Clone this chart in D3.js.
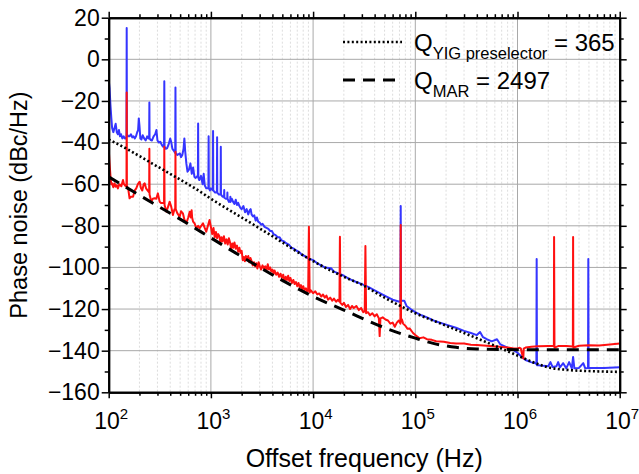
<!DOCTYPE html>
<html><head><meta charset="utf-8">
<script src="https://cdn.jsdelivr.net/npm/d3@7"></script>
<style>
body{margin:0;background:#fff}
svg{display:block}
text{font-family:"Liberation Sans",Arial,Helvetica,sans-serif;fill:#000}
</style>
</head><body>
<svg id="chart" width="639" height="474"></svg>
<script>
// ---------- data (frequency in Hz, phase noise in dBc/Hz) ----------
const blueTrace = [
[100,-10],[102,-14],[104,-22],[106,-28],[108,-33],[111,-35],[114,-33],[117,-31],[120,-35],[123,-36],[126,-34],[129,-37],[132,-36],[136,-38],[140,-37],[144,-38],[148,-38],
[149.3,-37],[150,15],[150.7,-36],[155,-37],[160,-37],[165,-36],[170,-37.5],[175,-37],[180,-38],[185,-37],[190,-35],
[194,-34],[197,-28.4],[200,-32],[204,-38],[209,-38.5],[215,-36.5],[222,-38],[230,-39],[238,-37],[245,-38],[248.8,-38],[250,-20.7],[251.2,-38],
[258,-38.8],[265,-39],[275,-37],[285,-36],[293,-34],[300,-39],[310,-40],[320,-39.6],[330,-41],[340,-42],[348,-42],[350,-10.5],[352,-42],
[362,-43],[372,-42.8],[385,-41],[400,-38],[410,-40],[420,-43],[435,-44],[447.5,-45],[450,-13.5],[452.5,-45],[470,-46],[485,-45.5],[497,-45.2],
[510,-47],[525,-46],[540,-43],[550,-38],[560,-44],[575,-50],[590,-54],[610,-53],[630,-50],[650,-55],[670,-52],[690,-56.5],[710,-57],[740,-56],
[746,-56],[750,-30.8],[754,-57],[770,-58],[800,-56],[830,-60],[850,-55],[870,-60.5],[900,-62],[945,-62],[950,-37],[955,-62],[980,-63],[1000,-62],
[1045,-63],[1050,-34.5],[1055,-63],[1100,-64],[1145,-64],[1150,-37.5],[1155,-64],[1200,-65],[1245,-65],[1250,-42],[1255,-65],[1300,-66],
[1345,-66],[1350,-62.8],[1355,-66.5],[1400,-67],[1445,-67],[1450,-64],[1455,-67],[1500,-68.5],[1545,-68],[1550,-66],[1555,-68.5],[1600,-67],[1650,-68.5],[1700,-69.5],[1750,-67.5],[1800,-70],
[1850,-69],[1900,-70.5],[1950,-71.5],[2000,-72],[2080,-70.5],[2160,-73.5],[2240,-72],[2320,-74.5],[2400,-72.5],[2450,-72],[2500,-74.5],[2580,-75.5],
[2660,-75],[2740,-77.5],[2820,-76],[2900,-78],[3000,-78.5],[3100,-79.5],[3200,-79],[3350,-80.5],[3500,-81],[3650,-81.5],[3800,-82.5],[3950,-82.5],
[4100,-84],[4300,-84.5],[4500,-85.5],[4700,-85.5],[4900,-87],[5200,-87.5],[5500,-88.5],[5800,-89],[6100,-90.5],[6500,-91],[6900,-92],[7300,-92.5],
[7800,-94],[8300,-94.5],[8800,-95.5],[9400,-96],[10000,-96.5],[11000,-98],[12000,-99],[13000,-100],
[15000,-100.4],[16000,-102],[18000,-103],[20000,-104],[22500,-105.5],[25000,-106.5],[30000,-108],[35000,-109.5],[40000,-111],[45000,-112.3],[50000,-113.5],[60000,-115.5],[70000,-116.5],[71500,-116],
[72000,-70.5],[72500,-116],[78000,-116],[82000,-118.5],[90000,-120],[100000,-121.5],[115000,-123],[130000,-124],[160000,-126],[200000,-127.5],[250000,-129],
[300000,-130.5],[350000,-131.5],[400000,-132.5],[430000,-131],[460000,-133.5],[500000,-134.5],[560000,-135.5],[630000,-134.5],[680000,-137],
[800000,-138.5],[900000,-139.5],[1000000,-141],[1100000,-143],[1200000,-144.5],[1350000,-145.5],[1500000,-146],[1530000,-146.5],[1540000,-96],
[1550000,-147],[1600000,-147],[1800000,-147.3],[2000000,-147.5],[2100000,-145.5],[2200000,-147.8],[2400000,-147.5],[2500000,-145.5],[2600000,-148],
[2800000,-146],[3000000,-148.5],[3200000,-145.5],[3400000,-148.5],[3500000,-143],[3600000,-148.5],[4000000,-148.3],[4400000,-146],[4600000,-148.5],
[4900000,-148.3],[4930000,-96],[4960000,-148.3],[5500000,-148.3],[7000000,-148.3],[10000000,-148]
];
const redTrace = [
[100,-43],[102,-50],[104,-56],[106,-60],[108,-59.6],[111,-61.5],[114,-59.6],[117,-61.2],[120,-60.5],[123,-62],[127,-60],[133,-61],[138,-58],[141,-60],
[147,-61],[149.3,-60],[150,-16],[150.7,-61],[155,-62],[160,-66.8],[165,-66],[173,-66],[180,-63],[186,-62],[193,-60],[201,-58.8],[207,-62],[213,-63],
[220,-60],[225,-59.6],[232,-62],[240,-63],[248.8,-64],[250,-43],[251.2,-65],[261,-68.4],[270,-67],[282,-66.8],[292,-67],[303,-64.4],[315,-68.4],
[325,-69],[335,-69],[348,-69],[350,-42],[352,-70],[367,-73.2],[380,-71],[395,-68.4],[410,-71],[425,-74.8],[440,-72],[447.5,-72],[450,-44.4],
[452.5,-72],[470,-74],[495,-75.6],[510,-73],[532,-74],[550,-77],[574,-78.8],[600,-76],[620,-73.2],[635,-76],[648,-72.5],[655,-76],[670,-78],
[695,-79],[720,-81.2],[750,-80],[777,-81.2],[805,-80],[837,-78.8],[870,-81],[900,-82.8],[935,-80],[970,-77.2],[1000,-80.5],
[1030,-84],[1060,-81],[1090,-85.5],[1120,-83],[1150,-86],[1180,-84],[1210,-85],[1240,-88],[1270,-85.5],[1300,-87.5],[1340,-85],[1380,-88.5],
[1420,-86.5],[1460,-89],[1500,-86],[1540,-88],[1580,-91],[1620,-88.5],[1660,-90.5],[1700,-88],[1750,-91],[1800,-89.5],[1850,-92.5],[1900,-90.5],
[1950,-93],[2000,-92],[2050,-96.5],[2100,-95],[2150,-97],[2200,-94.5],[2260,-96],[2320,-94.5],[2380,-97.5],[2440,-95.5],[2500,-97],[2570,-99],
[2640,-97.5],[2710,-99.5],[2780,-98],[2850,-100.5],[2930,-97.5],[3010,-99.5],[3100,-101],[3200,-99],[3300,-100.5],[3400,-99.5],[3500,-101.5],
[3600,-98.5],[3700,-101],[3800,-100],[3900,-102],[4000,-101],[4100,-103],[4200,-101.5],[4350,-103.5],[4500,-102.5],[4650,-104.5],[4800,-103],
[4950,-105],[5100,-103.5],[5250,-106.5],[5400,-104.5],[5550,-106],[5700,-104],[5850,-106.5],[6000,-105],[6200,-107.5],[6400,-106],[6600,-108],
[6800,-107],[7000,-109],[7200,-107.5],[7400,-109.5],[7600,-108.5],[7800,-110.5],[8000,-109],[8250,-111],[8500,-110],[8750,-111.5],[8950,-111],
[9100,-80.4],[9250,-112],[9500,-111],[10000,-112.4],[10500,-111.5],[11000,-113],[11500,-112.5],[12000,-114],[12500,-113],[13000,-114.5],
[13500,-113.5],[14000,-115.5],[14700,-114.5],[15400,-116],[16000,-115],[16800,-116.5],[17500,-115.5],[18100,-116.5],[18300,-85.2],[18500,-117],
[19300,-118],[20000,-117],[21000,-119],[22000,-118],[23000,-120],[24000,-118.5],[25000,-119.5],[26500,-118.5],[28000,-120.5],[29500,-119.5],
[31000,-121.5],[32000,-121],[32500,-89.7],[33000,-122],[34500,-121.5],[36000,-123],[38000,-122],[40000,-123.5],[42000,-122.5],[44000,-124.5],
[44800,-133],[45600,-124.5],[48000,-124],[51000,-125],[54000,-125.5],[57000,-127],[60000,-126.5],[63000,-128.5],[66000,-126.5],[69000,-125.5],
[71500,-127],[72000,-79.6],[72500,-126],[74000,-125],[76000,-127],[80000,-128],[84000,-129.5],[88000,-129.3],[95000,-131.5],[100000,-132.5],
[110000,-134],[120000,-133.6],[130000,-134.5],[145000,-134.8],[160000,-135.5],[190000,-135.7],[220000,-136.3],[250000,-136.5],[300000,-136.6],[350000,-137.1],[400000,-137.3],[500000,-137.6],[660000,-138.1],
[800000,-138.5],[920000,-138.9],[1000000,-138.9],[1050000,-138.6],[1080000,-139],[1100000,-141],[1140000,-143.7],[1150000,-139],[1200000,-138.5],
[1370000,-138.1],[1600000,-137.9],[2000000,-137.8],[2270000,-137.8],[2280000,-85.4],[2300000,-138.5],[2500000,-137.8],[3000000,-137.7],
[3480000,-138],[3500000,-85.4],[3520000,-138.5],[4000000,-137.6],[5000000,-137.4],[6300000,-137.5],[8000000,-137],[10000000,-136.6]
];
const qYigFit = [
[100,-38.5],[150,-43],[200,-46.5],[300,-51.5],[450,-56.5],[700,-62],[1000,-67],[2000,-76],[4000,-85],[10000,-97],[20000,-104.5],[30000,-108.3],
[50000,-114.5],[100000,-122],[200000,-128],[500000,-136],[1000000,-142.3],[1500000,-146],[2000000,-148],[3000000,-149.2],[5000000,-149.8],[10000000,-150.2]
];
const qMarFit = [
[100,-56.5],[200,-65.3],[500,-76.8],[1000,-85.8],[2000,-94.8],[5000,-106.2],[10000,-114],[20000,-120.5],[50000,-129],[100000,-134],
[150000,-136.5],[250000,-138.4],[400000,-139.2],[1000000,-139.5],[10000000,-139.5]
];
const yTickValues = [-160,-140,-120,-100,-80,-60,-40,-20,0,20];
const yMinorValues = [-150,-130,-110,-90,-70,-50,-30,-10,10];
const xDecadeExponents = [2,3,4,5,6,7];
const legendSubscripts = ["YIG preselector","MAR"];
const legendValues = ["365","2497"];
const xTitle = "Offset frequency (Hz)";
const yTitle = "Phase noise (dBc/Hz)";

// ---------- layout ----------
const L=108.7, R=619.7, T=17.7, B=392.3;
const x = d3.scaleLog().domain([1e2,1e7]).range([L,R]);
const y = d3.scaleLinear().domain([-160,20]).range([B,T]);
const svg = d3.select("#chart");

const decades = xDecadeExponents.map(e=>Math.pow(10,e));
const minorX = x.ticks().filter(v=>!decades.some(d=>Math.abs(d-v)/d<1e-6));

// grid
const grid = svg.append("g");
grid.selectAll(".mx").data(minorX).enter().append("line")
  .attr("x1",d=>x(d)).attr("x2",d=>x(d)).attr("y1",T).attr("y2",B)
  .attr("stroke","#d4d4d4").attr("stroke-width",0.8).attr("stroke-dasharray","2,2");
grid.selectAll(".Mx").data(decades).enter().append("line")
  .attr("x1",d=>x(d)).attr("x2",d=>x(d)).attr("y1",T).attr("y2",B)
  .attr("stroke","#a9a9a9").attr("stroke-width",1);
grid.selectAll(".My").data(yTickValues).enter().append("line")
  .attr("x1",L).attr("x2",R).attr("y1",d=>y(d)).attr("y2",d=>y(d))
  .attr("stroke","#a9a9a9").attr("stroke-width",1);

// clip
svg.append("clipPath").attr("id","plotclip").append("rect")
  .attr("x",L).attr("y",T).attr("width",R-L).attr("height",B-T);

const line = d3.line().x(d=>x(d[0])).y(d=>y(d[1]));
const plot = svg.append("g").attr("clip-path","url(#plotclip)");
plot.append("path").datum(blueTrace).attr("d",line).attr("fill","none")
  .attr("stroke","#3535ff").attr("stroke-width",2).attr("stroke-linejoin","round");
plot.append("path").datum(redTrace).attr("d",line).attr("fill","none")
  .attr("stroke","#ff1010").attr("stroke-width",2).attr("stroke-linejoin","round");
const smooth = d3.line().x(d=>x(d[0])).y(d=>y(d[1])).curve(d3.curveMonotoneX);
plot.append("path").datum(qYigFit).attr("d",smooth).attr("fill","none")
  .attr("stroke","#000").attr("stroke-width",2.6).attr("stroke-dasharray","2,2.4");
plot.append("path").datum(qMarFit).attr("d",smooth).attr("fill","none")
  .attr("stroke","#000").attr("stroke-width",3).attr("stroke-dasharray","12,8");

// axes
function styleAxis(g){
  g.select(".domain").attr("stroke","#000").attr("stroke-width",2);
  g.selectAll(".tick line").attr("stroke","#000").attr("stroke-width",1.5);
}
const fs = 23;
const gl = svg.append("g").attr("transform",`translate(${L},0)`)
  .call(d3.axisLeft(y).tickValues(yTickValues).tickSize(7).tickSizeOuter(0).tickPadding(2));
gl.selectAll("text").attr("font-size",fs).attr("font-family","Liberation Sans, Arial, sans-serif").attr("fill","#000");
styleAxis(gl);
const glm = svg.append("g").attr("transform",`translate(${L},0)`)
  .call(d3.axisLeft(y).tickValues(yMinorValues).tickSize(4).tickSizeOuter(0).tickFormat(""));
styleAxis(glm);
const gr = svg.append("g").attr("transform",`translate(${R},0)`)
  .call(d3.axisRight(y).tickValues(yTickValues).tickSize(7).tickSizeOuter(0).tickFormat(""));
styleAxis(gr);
const grm = svg.append("g").attr("transform",`translate(${R},0)`)
  .call(d3.axisRight(y).tickValues(yMinorValues).tickSize(4).tickSizeOuter(0).tickFormat(""));
styleAxis(grm);
const gt = svg.append("g").attr("transform",`translate(0,${T})`)
  .call(d3.axisTop(x).tickValues(decades).tickSize(6).tickSizeOuter(0).tickFormat(""));
styleAxis(gt);
const gtm = svg.append("g").attr("transform",`translate(0,${T})`)
  .call(d3.axisTop(x).tickValues(minorX).tickSize(3.5).tickSizeOuter(0).tickFormat(""));
styleAxis(gtm);
const gb = svg.append("g").attr("transform",`translate(0,${B})`)
  .call(d3.axisBottom(x).tickValues(decades).tickSize(6).tickSizeOuter(0).tickFormat(""));
styleAxis(gb);
const gbm = svg.append("g").attr("transform",`translate(0,${B})`)
  .call(d3.axisBottom(x).tickValues(minorX).tickSize(3.5).tickSizeOuter(0).tickFormat(""));
styleAxis(gbm);

// x tick labels 10^n
const xl = svg.append("g");
xDecadeExponents.forEach(e=>{
  const t = xl.append("text").attr("x",x(Math.pow(10,e))+2.5).attr("y",428.5)
    .attr("text-anchor","middle").attr("font-size",fs);
  t.append("tspan").text("10");
  t.append("tspan").attr("font-size",15).attr("dy",-10).text(String(e));
});

// titles
svg.append("text").attr("x",(L+R)/2).attr("y",467).attr("text-anchor","middle")
  .attr("font-size",25).text(xTitle);
svg.append("text").attr("transform",`translate(27,${(T+B)/2}) rotate(-90)`)
  .attr("text-anchor","middle").attr("font-size",23.5).text(yTitle);

// legend
const legY = [42,80];
const legDash = ["2,2.4","12,8"];
const legW = [2.6,3];
legendSubscripts.forEach((s,i)=>{
  svg.append("line").attr("x1",343).attr("x2",402).attr("y1",legY[i]).attr("y2",legY[i])
    .attr("stroke","#000").attr("stroke-width",legW[i]).attr("stroke-dasharray",legDash[i]);
  const t = svg.append("text").attr("x",414).attr("y",legY[i]+8.5).attr("font-size",24);
  t.append("tspan").text("Q");
  t.append("tspan").attr("font-size",16.5).attr("dy",8).text(s);
  t.append("tspan").attr("dy",-8).text(" = " + legendValues[i]);
});
</script>
</body></html>
